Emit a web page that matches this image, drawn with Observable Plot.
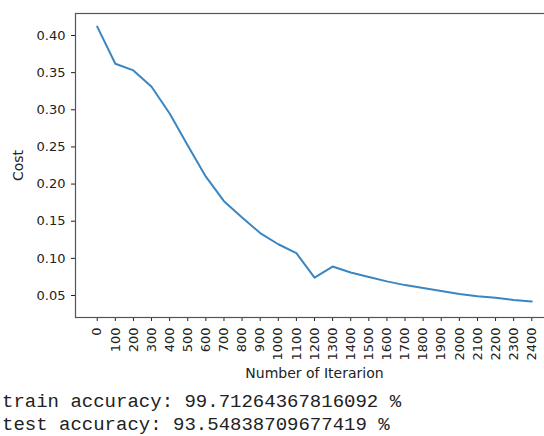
<!DOCTYPE html>
<html>
<head>
<meta charset="utf-8">
<script src="https://cdn.jsdelivr.net/npm/d3@7"></script>
<script src="https://cdn.jsdelivr.net/npm/@observablehq/plot@0.6"></script>
<style>
  html, body { margin: 0; padding: 0; background: #fff; overflow: hidden; width: 544px; }
  #chart { width: 544px; overflow: hidden; }
  #chart svg { display: block; max-width: none !important; }
  #chart svg g[aria-label="x-axis label"] text, #chart svg g[aria-label="y-axis label"] text { font-size: 14px; }
  .out { font-family: "Liberation Mono", "Courier New", monospace; font-size: 19px; line-height: 23px; color: #222; margin-left: 2px; margin-top: 6px; white-space: pre; }
</style>
</head>
<body>
<div id="chart"></div>
<div class="out" id="out"></div>
<script>
const iterations = [0,100,200,300,400,500,600,700,800,900,1000,1100,1200,1300,1400,1500,1600,1700,1800,1900,2000,2100,2200,2300,2400];
const cost = [0.412,0.362,0.353,0.331,0.295,0.252,0.210,0.177,0.155,0.134,0.119,0.107,0.074,0.089,0.081,0.075,0.069,0.064,0.060,0.056,0.052,0.049,0.047,0.044,0.042];
const yTicks = [0.05,0.10,0.15,0.20,0.25,0.30,0.35,0.40];
const outputLines = ["train accuracy: 99.71264367816092 %", "test accuracy: 93.54838709677419 %"];

const data = iterations.map((it, i) => ({it, c: cost[i]}));

const chart = Plot.plot({
  width: 556,
  height: 385,
  marginTop: 13,
  marginBottom: 68,
  marginLeft: 75,
  marginRight: 3,
  style: {fontFamily: "DejaVu Sans", fontSize: "13px", color: "#222", background: "#fff", maxWidth: "none"},
  x: {domain: [-120, 2520]},
  y: {domain: [0.0204, 0.4296]},
  marks: [
    Plot.line(data, {x: "it", y: "c", stroke: "#3a86c2", strokeWidth: 2}),
    Plot.axisX({ticks: iterations, tickRotate: -90, tickSize: 4, tickPadding: 6, tickFormat: d => String(d),
      label: "Number of Iterarion", labelAnchor: "center", labelOffset: 60, labelArrow: "none"}),
    Plot.axisY({ticks: yTicks, tickSize: 4, tickPadding: 6, tickFormat: d3.format(".2f"),
      label: "Cost", labelAnchor: "center", labelOffset: 62, labelArrow: "none"}),
    Plot.frame({stroke: "#555", strokeWidth: 1.2})
  ]
});
document.getElementById("chart").append(chart);
document.getElementById("out").textContent = outputLines.join("\n");
</script>
</body>
</html>
